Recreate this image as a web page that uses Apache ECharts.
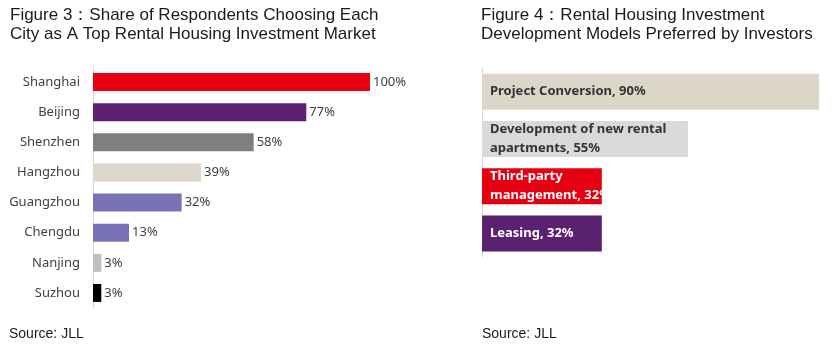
<!DOCTYPE html>
<html><head><meta charset="utf-8">
<script src="https://cdn.jsdelivr.net/npm/echarts@6/dist/echarts.min.js"></script>
<style>html,body{margin:0;padding:0;background:#fff}#c{width:833px;height:351px}</style>
</head><body><div id="c"></div>
<script>
const cities = ['Shanghai','Beijing','Shenzhen','Hangzhou','Guangzhou','Chengdu','Nanjing','Suzhou'];
const cityValues = [100, 77, 58, 39, 32, 13, 3, 3];
const cityColors = ['#E50012','#5E2172','#7F7F7F','#DDD8CA','#7A72B6','#7A72B6','#BFBFBF','#000000'];
const models = ['Project Conversion','Development of new rental\napartments','Third-party\nmanagement','Leasing'];
const modelValues = [90, 55, 32, 32];
const modelColors = ['#DCD6C8','#D9D9D9','#E50012','#5B2171'];
const modelTextColors = ['#333333','#333333','#ffffff','#ffffff'];

const titleStyle = {fontFamily: 'Liberation Sans', fontSize: 17, fontWeight: 'normal', color: '#1a1a1a', lineHeight: 19};
const srcStyle = {fontFamily: 'Liberation Sans', fontSize: 14, fontWeight: 'normal', color: '#1a1a1a'};
const chart = echarts.init(document.getElementById('c'));
chart.setOption({
  animation: false,
  title: [
    {text: 'Figure 3：Share of Respondents Choosing Each\nCity as A Top Rental Housing Investment Market', left: 10, top: 6, padding: 0, textStyle: titleStyle},
    {text: 'Figure 4：Rental Housing Investment\nDevelopment Models Preferred by Investors', left: 481, top: 6, padding: 0, textStyle: titleStyle},
    {text: 'Source: JLL', left: 9, top: 327, padding: 0, textStyle: srcStyle},
    {text: 'Source: JLL', left: 482, top: 327, padding: 0, textStyle: srcStyle}
  ],
  grid: [
    {left: 93, top: 67, width: 277, height: 241},
    {left: 482, top: 68, width: 337, height: 189}
  ],
  xAxis: [
    {gridIndex: 0, type: 'value', min: 0, max: 100, show: false},
    {gridIndex: 1, type: 'value', min: 0, max: 90, show: false}
  ],
  yAxis: [
    {gridIndex: 0, type: 'category', data: cities, inverse: true,
     axisLine: {show: true, lineStyle: {color: '#D9D9D9'}}, axisTick: {show: false}, splitLine: {show: false},
     axisLabel: {fontFamily: 'Noto Sans', fontSize: 13, color: '#404040', margin: 13}},
    {gridIndex: 1, type: 'category', data: models, inverse: true,
     axisLine: {show: true, lineStyle: {color: '#D9D9D9'}}, axisTick: {show: false}, splitLine: {show: false},
     axisLabel: {show: false}}
  ],
  series: [
    {type: 'bar', xAxisIndex: 0, yAxisIndex: 0, barWidth: 18,
     data: cityValues.map((v, i) => ({value: v, itemStyle: {color: cityColors[i]}})),
     label: {show: true, position: 'right', distance: 3, formatter: p => p.value + '%',
             fontFamily: 'Noto Sans', fontSize: 13, color: '#404040'}},
    {type: 'bar', xAxisIndex: 1, yAxisIndex: 1, barWidth: 36,
     data: modelValues.map((v, i) => ({value: v, itemStyle: {color: modelColors[i]},
       label: {color: modelTextColors[i]}})),
     label: {show: true, position: 'insideLeft', distance: 8,
             formatter: p => p.name + ', ' + p.value + '%',
             fontFamily: 'Noto Sans', fontWeight: 'bold', fontSize: 13, lineHeight: 19}}
  ]
});
</script></body></html>
